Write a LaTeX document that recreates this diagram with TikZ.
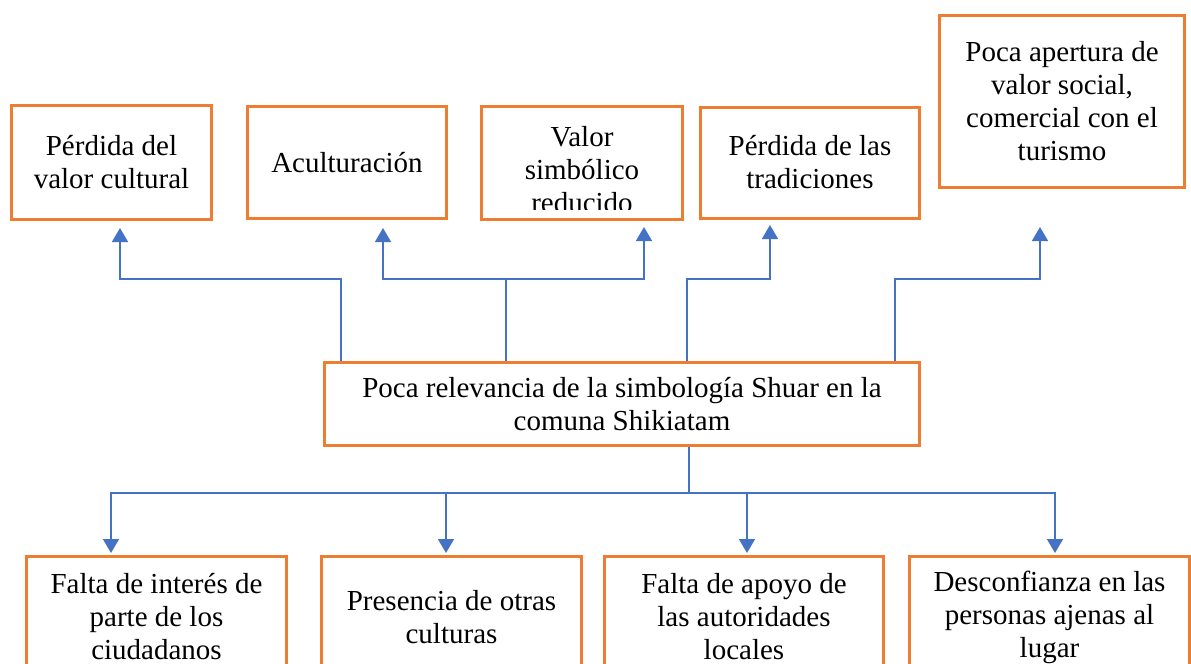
\documentclass[tikz,border=0pt]{standalone}
\usepackage{fontspec}
\setmainfont{Liberation Serif}
\usetikzlibrary{arrows.meta,positioning}
\definecolor{boxorange}{HTML}{ED7D31}
\definecolor{linkblue}{HTML}{4472C4}

\begin{document}
\begin{tikzpicture}[
    x=0.5pt, y=-0.5pt,
    every node/.style={align=center, font=\fontsize{14.5}{16.5}\selectfont},
    box/.style={draw=boxorange, line width=1.5pt, inner sep=2pt},
    link/.style={linkblue, line width=0.8pt},
    arrow/.style={link, -{Triangle[length=7pt, width=8pt]}}
]
    \useasboundingbox (0,0) rectangle (1191,664);
    \clip (0,0) rectangle (1191,664);

    % effects
    \node[box, minimum width=100pt, minimum height=57pt] (perdida) at (111.5,162.5) {Pérdida del\\valor cultural};
    \node[box, minimum width=99.5pt, minimum height=56pt, right=16.5pt of perdida] (acult) {Aculturación};
    \node[box, minimum width=100.5pt, minimum height=56.5pt, right=16pt of acult] (valor) {};
    \node[box, minimum width=109.5pt, minimum height=55.5pt, right=7.5pt of valor] (trad) {Pérdida de las\\tradiciones};
    \node[box, minimum width=122.5pt, minimum height=86pt] (turismo) at (1062,101.5) {Poca apertura de\\valor social,\\comercial con el\\turismo};
    \begin{scope}
        \clip (valor.north west) rectangle ([yshift=5.5pt]valor.south east);
        \node[anchor=north, inner sep=0pt] (valortxt) at ([yshift=-10.75pt]valor.north) {Valor\\simbólico\\reducido};
    \end{scope}

    % problem
    \node[box, minimum width=297.5pt, minimum height=41.5pt] (rel) at (622,404) {Poca relevancia de la simbología Shuar en la\\comuna Shikiatam};

    % causes
    \node[box, minimum width=130pt, minimum height=60.5pt] (interes) at (156.5,617) {Falta de interés de\\parte de los\\ciudadanos};
    \node[box, minimum width=130pt, minimum height=60.5pt, right=16pt of interes] (otras) {Presencia de otras\\culturas};
    \node[box, minimum width=139.5pt, minimum height=60.5pt, right=10pt of otras] (apoyo) {Falta de apoyo de\\las autoridades\\locales};
    \node[box, minimum width=140pt, minimum height=60.5pt, right=11.5pt of apoyo] (desconf) {Desconfianza en las\\personas ajenas al\\lugar};

    \draw[arrow] ([xshift=9pt]rel.north west) -- ++(0,-82) -| ([xshift=4.25pt, yshift=-3.5pt]perdida.south);
    \draw[link] ([xshift=-58pt]rel.north) -- ++(0,-82) coordinate (split);
    \draw[arrow] (split) -| ([xshift=18pt, yshift=-4pt]acult.south);
    \draw[arrow] (split) -| ([xshift=31pt, yshift=-3.25pt]valor.south);
    \draw[arrow] ([xshift=32.5pt]rel.north) -- ++(0,-82) -| ([xshift=-20pt, yshift=-2.75pt]trad.south);
    \draw[arrow] ([xshift=-13pt]rel.north east) -- ++(0,-82) -| ([xshift=-11pt, yshift=-19pt]turismo.south);

    \draw[link] ([xshift=33.5pt]rel.south) -- ++(0,46) coordinate (fork);
    \draw[arrow] (fork) -| ([xshift=-22.75pt, yshift=1pt]interes.north);
    \draw[arrow] (fork) -| ([xshift=-2.75pt, yshift=1pt]otras.north);
    \draw[arrow] (fork) -| ([xshift=1.5pt, yshift=1pt]apoyo.north);
    \draw[arrow] (fork) -| ([xshift=2.75pt, yshift=1pt]desconf.north);
\end{tikzpicture}
\end{document}
